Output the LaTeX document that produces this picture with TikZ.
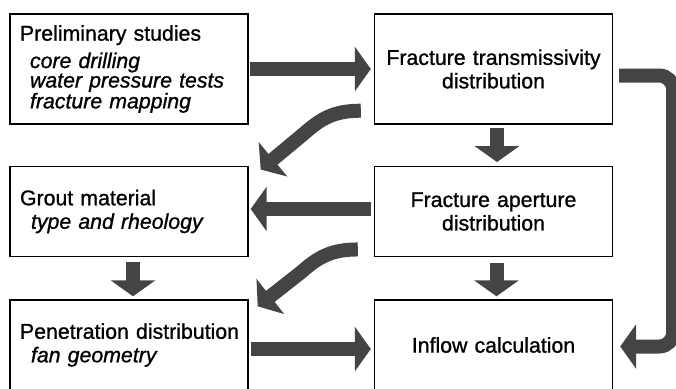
\documentclass[tikz,border=0pt]{standalone}
\usepackage{fontspec}
\setmainfont{Liberation Sans}[FakeBold=1,
  UprightFeatures={FakeBold=1}, ItalicFeatures={FakeBold=1}]
\usetikzlibrary{arrows.meta,calc}
\definecolor{arrowgray}{RGB}{68,68,68}

\tikzset{
  box/.style={draw=black, line width=1.4pt, minimum width=238pt, text width=218pt,
    inner xsep=10pt, inner ysep=0pt, font=\fontsize{21.3pt}{23.5pt}\selectfont},
  leftbox/.style={box, align=left},
  midbox/.style={box, align=center},
  bigarrow/.style={draw=arrowgray, line width=14pt, -{Triangle[width=44pt,length=16pt]}},
}

\begin{document}
\begin{tikzpicture}[x=1pt,y=1pt]
  \useasboundingbox (0,0) rectangle (676,-388);
  \clip (0,0) rectangle (676,-388);

  % left column
  \node[leftbox, minimum height=110pt, font=\fontsize{21.3pt}{19.5pt}\selectfont] (pre) at (129,-69)
    {\mbox{Preliminary studies}\\[6.5pt]
     \hspace*{10pt}\mbox{\textit{core drilling}}\\
     \hspace*{10pt}\mbox{\textit{water pressure tests}}\\
     \hspace*{10pt}\mbox{\textit{fracture mapping}}};
  \node[leftbox, minimum height=90.5pt] (grout) at (129,-211.5)
    {\mbox{Grout material}\\ \hspace*{11pt}\mbox{\textit{type and rheology}}};
  \node[leftbox, minimum height=90pt] (pen) at (129,-345)
    {\mbox{Penetration distribution}\\ \hspace*{11pt}\mbox{\textit{fan geometry}}};

  % right column
  \node[midbox, minimum height=110pt] (trans) at (493.5,-69)
    {\mbox{Fracture transmissivity}\\distribution};
  \node[midbox, minimum height=90.5pt] (apt) at (493.5,-211.5)
    {\mbox{Fracture aperture}\\distribution};
  \node[midbox, minimum height=90pt] (infl) at (493.5,-345)
    {\mbox{Inflow calculation}};

  % straight block arrows
  \draw[bigarrow, shorten <=1pt, shorten >=3pt] (pre.east) -- (trans.west);
  \draw[bigarrow, shorten <=3pt, shorten >=2pt]
    ([yshift=2.5pt]apt.west) -- ([yshift=2.5pt]grout.east);
  \draw[bigarrow, shorten <=2pt, shorten >=3pt]
    ([yshift=-4pt]pen.east) -- ([yshift=-4pt]infl.west);
  \draw[bigarrow, shorten <=3pt, shorten >=3.5pt]
    ([xshift=3.5pt]trans.south) -- ([xshift=3.5pt]apt.north);
  \draw[bigarrow, shorten <=6pt, shorten >=3pt]
    ([xshift=3pt]apt.south) -- ([xshift=3pt]infl.north);
  \draw[bigarrow, shorten <=5pt, shorten >=3pt]
    ([xshift=4pt]grout.south) -- ([xshift=4pt]pen.north);

  % curved arrows feeding the left column
  \coordinate (s1) at ([shift={(-13pt,14pt)}]trans.south west);
  \coordinate (t1) at ([shift={(12pt,-4pt)}]grout.north east);
  \draw[bigarrow] (s1) .. controls +(-27pt,0pt) and +(17pt,15pt) .. ++(-57pt,-23pt) -- (t1);

  \coordinate (s2) at ([shift={(-16pt,8pt)}]apt.south west);
  \coordinate (t2) at ([shift={(9pt,-7pt)}]pen.north east);
  \draw[bigarrow] (s2) .. controls +(-27pt,0pt) and +(17pt,15pt) .. ++(-57pt,-23pt) -- (t2);

  % loop from transmissivity down to inflow
  \coordinate (s3) at ([shift={(6pt,-6.5pt)}]trans.east);
  \coordinate (t3) at ([shift={(7pt,-1.5pt)}]infl.east);
  \draw[bigarrow, rounded corners=14pt] (s3) -- ++(54pt,0pt) |- (t3);
\end{tikzpicture}
\end{document}
